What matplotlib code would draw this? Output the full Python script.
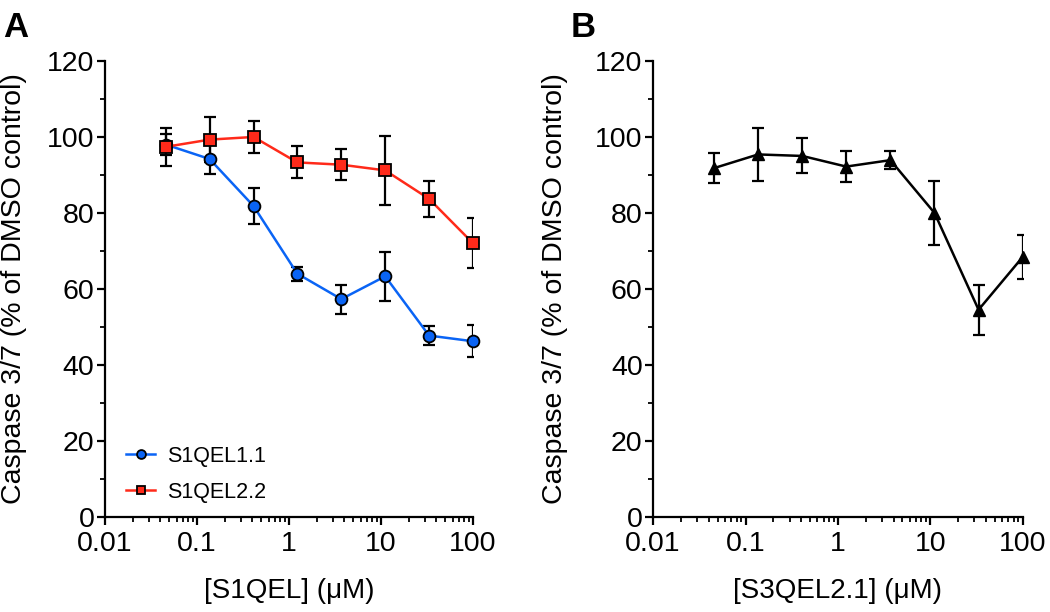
import numpy as np
import matplotlib
matplotlib.use("Agg")
import matplotlib.pyplot as plt
from matplotlib.ticker import FixedLocator, MultipleLocator, LogLocator, NullFormatter

plt.rcParams['font.family'] = ['Liberation Sans', 'DejaVu Sans']

# Concentrations (µM), 3-fold dilutions
conc = [0.0457, 0.137, 0.412, 1.23, 3.70, 11.1, 33.3, 100.0]

# Panel A
s1qel11_mean = [98.0, 94.2, 81.8, 64.0, 57.3, 63.3, 47.7, 46.2]
s1qel11_err = [2.7, 4.0, 4.7, 1.8, 3.8, 6.4, 2.6, 4.2]
s1qel22_mean = [97.4, 99.3, 100.0, 93.3, 92.7, 91.2, 83.7, 72.0]
s1qel22_err = [5.0, 6.0, 4.3, 4.2, 4.0, 9.0, 4.8, 6.6]

# Panel B
s3qel21_mean = [91.8, 95.4, 95.0, 92.2, 93.9, 80.0, 54.5, 68.4]
s3qel21_err = [3.9, 7.0, 4.6, 4.1, 2.3, 8.4, 6.6, 5.7]

xticks = [0.01, 0.1, 1, 10, 100]
xticklabels = ["0.01", "0.1", "1", "10", "100"]
yticks = [0, 20, 40, 60, 80, 100, 120]

fig = plt.figure(figsize=(10.5, 6.12), dpi=100)
axA = fig.add_axes([0.100, 0.1557, 0.3505, 0.7446])
axB = fig.add_axes([0.622, 0.1557, 0.352, 0.7446])

def style(ax, xlabel, ylab_x):
    ax.set_xscale('log')
    ax.set_xlim(0.01, 100)
    ax.set_ylim(0, 120)
    for s in ['top', 'right']:
        ax.spines[s].set_visible(False)
    for s in ['left', 'bottom']:
        ax.spines[s].set_linewidth(1.6)
    ax.xaxis.set_major_locator(FixedLocator(xticks))
    ax.set_xticklabels(xticklabels)
    ax.xaxis.set_minor_locator(LogLocator(base=10, subs=np.arange(2, 10)))
    ax.xaxis.set_minor_formatter(NullFormatter())
    ax.yaxis.set_major_locator(FixedLocator(yticks))
    ax.yaxis.set_minor_locator(MultipleLocator(10))
    ax.tick_params(which='major', direction='out', length=6, width=1.6, labelsize=20.5)
    ax.tick_params(axis='y', which='major', pad=1.5)
    ax.tick_params(axis='x', which='major', pad=4)
    ax.tick_params(which='minor', direction='out', length=3.5, width=1.3)
    ax.set_xlabel(xlabel, fontsize=20)
    ax.set_ylabel("Caspase 3/7 (% of DMSO control)", fontsize=20.5)
    ax.xaxis.set_label_coords(0.5, -0.135)
    ax.yaxis.set_label_coords(ylab_x, 0.5)

eb_kw = dict(fmt='none', ecolor='black', elinewidth=1.6, capsize=4.5, capthick=1.6, zorder=2)

axA.errorbar(conc, s1qel11_mean, yerr=s1qel11_err, **eb_kw)
axA.errorbar(conc, s1qel22_mean, yerr=s1qel22_err, **eb_kw)
axA.plot(conc, s1qel11_mean, '-o', color='#0a64f5', markerfacecolor='#0a64f5',
         markeredgecolor='black', markeredgewidth=1.3, markersize=8.5, linewidth=1.8,
         label='S1QEL1.1', zorder=3, clip_on=False)
axA.plot(conc, s1qel22_mean, '-s', color='#ff2a1a', markerfacecolor='#ff2a1a',
         markeredgecolor='black', markeredgewidth=1.3, markersize=8, linewidth=1.8,
         label='S1QEL2.2', zorder=3, clip_on=False)
style(axA, "[S1QEL] (\u03bcM)", -0.212)
leg = axA.legend(loc='upper left', bbox_to_anchor=((126 - 105) / 368, (516.7 - 446) / 455.7),
                 frameon=False, fontsize=15.5, borderpad=0, borderaxespad=0, markerscale=0.75,
                 handlelength=1.35, handletextpad=0.55, labelspacing=0.68)

axB.errorbar(conc, s3qel21_mean, yerr=s3qel21_err, **eb_kw)
axB.plot(conc, s3qel21_mean, '-^', color='black', markerfacecolor='black',
         markeredgecolor='black', markersize=8, linewidth=1.8, zorder=3, clip_on=False)
style(axB, "[S3QEL2.1] (\u03bcM)", -0.23)

fig.text(0.003, 1 - 11 / 612, "A", fontsize=25, fontweight='bold', va='top')
fig.text(0.543, 1 - 11 / 612, "B", fontsize=25, fontweight='bold', va='top')

fig.savefig("out.png", dpi=100)
